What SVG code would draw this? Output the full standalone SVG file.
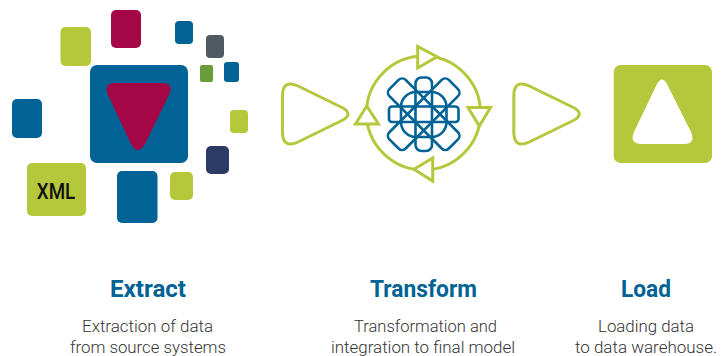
<svg xmlns="http://www.w3.org/2000/svg" width="727" height="356" viewBox="0 0 727 356">
<style>
.b{fill:#006295}.l{fill:#b5c73b}.m{fill:#a50646}
.o{fill:#fff;stroke:#b5c73b;stroke-width:3;stroke-linejoin:miter}
.a{fill:none;stroke:#b5c73b;stroke-width:3}
.k{fill:none;stroke:#006295;stroke-width:2.6}
.h{font-family:Roboto,"Liberation Sans",sans-serif;font-weight:700;font-size:23px;fill:#006295;text-anchor:middle}
.t{font-family:Roboto,"Liberation Sans",sans-serif;font-weight:300;font-size:16px;fill:#333;text-anchor:middle}
</style>
<rect width="727" height="356" fill="#fff"/>
<g id="extract">
<rect class="m" x="111" y="10" width="30" height="38" rx="5"/>
<rect class="l" x="60.5" y="27" width="30.5" height="39" rx="5"/>
<rect class="b" x="175" y="21" width="18" height="23" rx="4"/>
<rect x="206" y="35" width="18" height="23" rx="4" fill="#50595f"/>
<rect x="200" y="65" width="13" height="17" rx="2" fill="#6a9c3a"/>
<rect class="b" x="224" y="62" width="15" height="20" rx="3"/>
<rect class="l" x="230" y="110" width="18" height="23" rx="4"/>
<rect x="206" y="146" width="23" height="28" rx="5" fill="#2b3a67"/>
<rect class="l" x="170" y="172" width="23" height="28" rx="5"/>
<rect class="b" x="117" y="171" width="40.5" height="52" rx="5"/>
<rect class="b" x="12" y="99" width="30" height="39" rx="5"/>
<rect class="l" x="27" y="163" width="59" height="53" rx="5"/>
<text x="56" y="199" textLength="38.5" lengthAdjust="spacingAndGlyphs" text-anchor="middle" font-family="Roboto,'Liberation Sans',sans-serif" font-weight="500" font-size="22" fill="#111">XML</text>
<rect class="b" x="90" y="65" width="98" height="98" rx="7"/>
<path class="m" d="M115,83 L162,83 Q174,83 169,95 L145,144 Q138,156 131,144 L108,95 Q103,83 115,83 Z"/>
</g>
<g id="transform">
<circle cx="423.5" cy="113" r="57" class="a"/>
<polygon class="o" points="417.7,46.5 417.7,68 437,56.7"/>
<polygon class="o" points="468,107.5 490.5,107.5 479.3,126"/>
<polygon class="o" points="432.7,158 432.7,181 414,169.3"/>
<polygon class="o" points="355.5,124 378.5,124 366.7,106"/>
<g id="knot">
<rect class="k" x="389" y="106.5" width="69.5" height="15.5" rx="3"/>
<rect class="k" x="415.5" y="77.5" width="16.5" height="73.5" rx="6"/>
<rect class="k" x="401" y="92" width="45.5" height="45" rx="15"/>
<rect class="k" x="381.7" y="102.7" width="84" height="23" rx="5" transform="rotate(45 423.7 114.2)"/>
<rect class="k" x="381.7" y="102.7" width="84" height="23" rx="5" transform="rotate(-45 423.7 114.2)"/>
</g>
</g>
<g id="load">
<rect class="l" x="613.7" y="65" width="98.3" height="98" rx="7"/>
<path fill="#fff" d="M657,84 Q662,75 667,84 L691,132 Q696,144 684,144 L642,144 Q629,144 634,132 Z"/>
</g>
<g id="connectors">
<path id="arrow1" class="a" d="M282.5,96 Q282.5,79 298,86 L343,108 Q353,114 343,120 L298,142 Q282.5,149 282.5,132 Z"/>
<path id="arrow2" class="a" d="M513.8,96 Q513.8,79 529.3,86 L574.3,108 Q584.3,114 574.3,120 L529.3,142 Q513.8,149 513.8,132 Z"/>
</g>
<g id="labels">
<text class="h" x="148" y="297" textLength="76" lengthAdjust="spacingAndGlyphs">Extract</text>
<text class="t" x="147.5" y="332" textLength="131" lengthAdjust="spacingAndGlyphs">Extraction of data</text>
<text class="t" x="148" y="353" textLength="156" lengthAdjust="spacingAndGlyphs">from source systems</text>
<text class="h" x="423.5" y="297" textLength="107" lengthAdjust="spacingAndGlyphs">Transform</text>
<text class="t" x="425.5" y="332" textLength="143" lengthAdjust="spacingAndGlyphs">Transformation and</text>
<text class="t" x="423" y="353" textLength="184" lengthAdjust="spacingAndGlyphs">integration to final model</text>
<text class="h" x="646" y="297" textLength="50" lengthAdjust="spacingAndGlyphs">Load</text>
<text class="t" x="646" y="332" textLength="96" lengthAdjust="spacingAndGlyphs">Loading data</text>
<text class="t" x="646" y="353" textLength="142" lengthAdjust="spacingAndGlyphs">to data warehouse.</text>
</g>
</svg>
